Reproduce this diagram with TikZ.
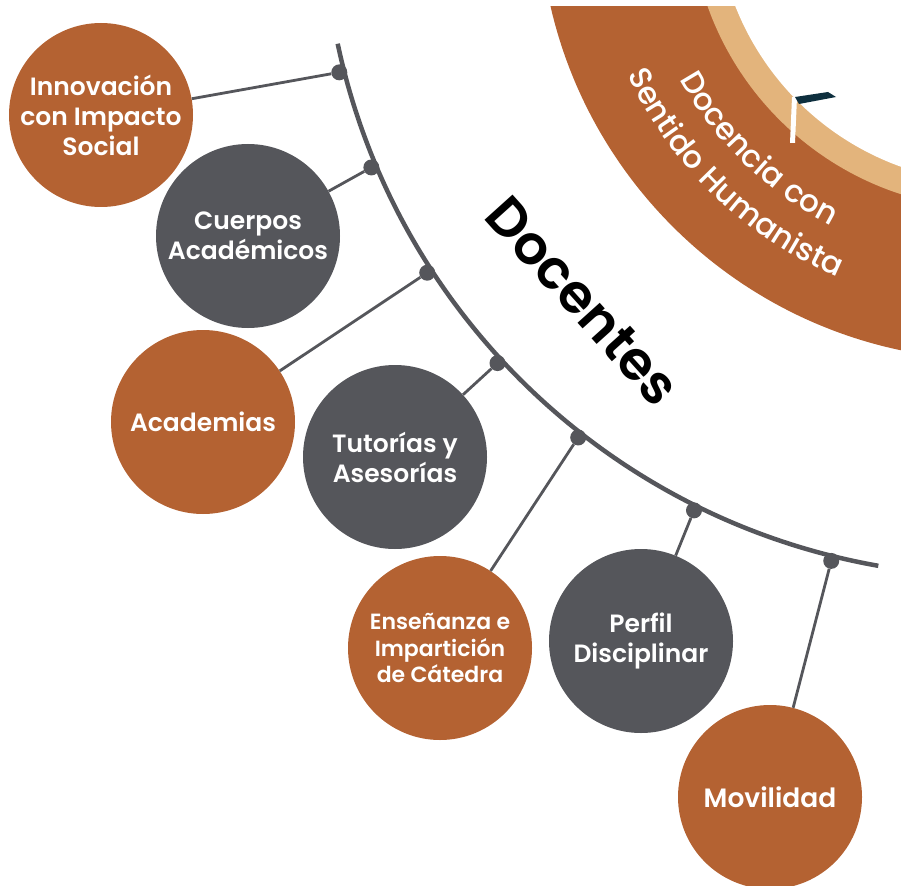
\documentclass[tikz,border=0pt]{standalone}
\usepackage{fontspec}
\setmainfont{Poppins}[UprightFont=* Medium, BoldFont=* SemiBold]
\usepackage{xcolor}
\usetikzlibrary{decorations.text}

\definecolor{rust}{HTML}{B46232}
\definecolor{slate}{HTML}{55565B}
\definecolor{sand}{HTML}{E3B47C}
\definecolor{ink}{HTML}{0E2F3E}

\begin{document}
\begin{tikzpicture}[
      x=1pt, y=1pt,
      topic/.style={
        circle,
        minimum size=184pt,
        inner sep=0pt,
        text=white,
        align=center,
        font=\bfseries\fontsize{25}{30}\selectfont
      },
      warm/.style={topic, fill=rust},
      cool/.style={topic, fill=slate},
      knot/.style={circle, fill=slate, minimum size=16pt, inner sep=0pt},
      spine/.style={draw=slate, line width=4.5pt},
      ringtext/.style={
        decorate,
        decoration={text along path, text align=center, text color=white,
          text={|\fontsize{31}{31}\selectfont|#1}}
      },
      every edge/.style={draw=slate, line width=2.8pt}
    ]
    \useasboundingbox (0,0) rectangle (901,-885);
    \clip (0,0) rectangle (901,-885);
    \coordinate (O) at (995,96);

    % Ring
    \begin{scope}
      \clip (0,-7) rectangle (901,-885);
      \fill[rust] (O) circle[radius=456];
      \fill[sand] (O) circle[radius=305];
      \fill[white] (O) circle[radius=279];
    \end{scope}
    \fill[white] (792,-97) -- (797,-97) -- (795,-143) -- (790,-143) -- cycle;
    \fill[ink] (795,-97) -- (828,-92) -- (836,-97) -- (799,-104) -- cycle;
    \path[ringtext={Docencia con}] ([shift={(186:361)}]O) arc[start angle=186, end angle=266, radius=361];
    \path[ringtext={Sentido Humanista}] ([shift={(186:405)}]O) arc[start angle=186, end angle=266, radius=405];

    % Spine
    \draw[spine] ([shift={(192:672)}]O) arc[start angle=192, end angle=260, radius=672];
    \node[rotate=-48, font=\bfseries\fontsize{54}{54}\selectfont] (title) at (583,-301) {Docentes};

    % Nodes
    \node[warm] (innov) at (101,-115) {Innovación\\con Impacto\\Social};
    \node[cool] (cuerpos) at (248,-236) {Cuerpos\\Académicos};
    \node[warm] (academias) at (203,-422) {Academias};
    \node[cool] (tutorias) at (395,-457) {Tutorías y\\Asesorías};
    \node[warm, font=\bfseries\fontsize{22}{26.7}\selectfont] (ensenanza) at (440,-648) {Enseñanza e\\Impartición\\de Cátedra};
    \node[cool] (perfil) at (641,-641) {Perfil\\Disciplinar};
    \node[warm, font=\bfseries\fontsize{26.5}{30}\selectfont] (movilidad) at (770,-797) {Movilidad};

    \node[knot] (k1) at ([shift={(194.4:677)}]O) {};
    \node[knot] (k2) at ([shift={(202.9:677)}]O) {};
    \node[knot] (k3) at ([shift={(213.0:677)}]O) {};
    \node[knot] (k4) at ([shift={(222.7:677)}]O) {};
    \node[knot] (k5) at ([shift={(232.0:677)}]O) {};
    \node[knot] (k6) at ([shift={(243.6:677)}]O) {};
    \node[knot] (k7) at ([shift={(256.0:677)}]O) {};

    % Connectors
    \path (k1) edge (innov)
          (k2) edge (cuerpos)
          (k3) edge (academias)
          (k4) edge (tutorias)
          (k5) edge (ensenanza)
          (k6) edge (perfil)
          (k7) edge (movilidad);
  \end{tikzpicture}
\end{document}
